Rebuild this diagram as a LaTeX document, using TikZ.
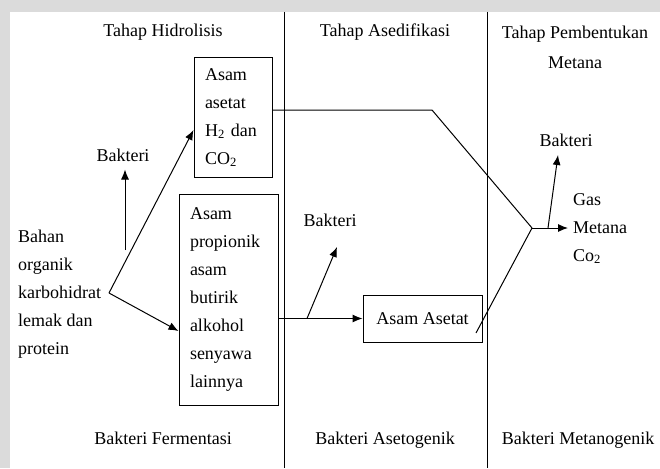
\documentclass[tikz,border=0pt]{standalone}
\usepackage{fontspec}
\setmainfont{Liberation Serif}
\usetikzlibrary{arrows.meta,positioning}

\begin{document}
\begin{tikzpicture}[
  x=1pt, y=-1pt,
  font=\fontsize{18}{28}\selectfont,
  box/.style={draw=black, line width=1pt, align=left, inner xsep=11pt, inner ysep=0pt},
  lbl/.style={inner sep=0pt},
  arr/.style={-{Latex[length=10pt,width=8pt]}, line width=1pt},
  ln/.style={line width=1pt},
]
  % background and frame
  \fill[gray!28] (0,0) rectangle (660,468);
  \fill[white] (10,12) rectangle (660,468);
  \useasboundingbox (0,0) rectangle (660,468);

  % stage dividers
  \draw[ln] (284,12) -- (284,468);
  \draw[ln] (487,12) -- (487,468);

  % stage titles
  \node[lbl] (hidro) at (163,32) {Tahap Hidrolisis};
  \node[lbl] (asedi) at (385,32) {Tahap Asedifikasi};
  \node[lbl, align=center] (metan) at (575,47) {Tahap Pembentukan\\[2pt]Metana};

  % hydrolysis stage
  \node[lbl, align=left, anchor=west] (bahan) at (18,294) {Bahan\\organik\\karbohidrat\\lemak dan\\protein};
  \node[box, minimum width=78, minimum height=119, text width=56] (asetat) at (233,117.5)
    {Asam\\asetat\\H\textsubscript{2} dan\\CO\textsubscript{2}};
  \node[box, minimum width=99, minimum height=211, text width=77] (propio) at (228.5,299.5)
    {Asam\\propionik\\asam\\butirik\\alkohol\\senyawa\\lainnya};
  \node[lbl] (bakA) at (123,155) {Bakteri};
  \node[lbl] (ferm) at (163,438) {Bakteri Fermentasi};

  \coordinate (split) at (109,293);
  \coordinate (bakAtail) at (125,250);
  \draw[arr] (split) -- ([yshift=-12.5]asetat.west);
  \draw[arr] (split) -- ([yshift=-31.5]propio.west);
  \draw[arr] (bakAtail) -- ([yshift=-8]bakAtail |- bakA.south);

  % acidification stage
  \node[box, minimum width=119, minimum height=47, inner xsep=0pt, align=center] (asam) at (422.5,318.5) {Asam Asetat};
  \node[lbl] (bakB) at (330,220) {Bakteri};
  \node[lbl] (aseto) at (385,440) {Bakteri Asetogenik};

  \coordinate (bakBtail) at (307,318.5);
  \coordinate (bakBtip) at (337,247);
  \draw[arr] (propio.east |- asam.west) -- (asam.west);
  \draw[arr] (bakBtail) -- (bakBtip);

  % methane stage
  \node[lbl, align=left, anchor=west] (gas) at (573,228.5) {Gas\\Metana\\Co\textsubscript{2}};
  \node[lbl] (bakC) at (566,140) {Bakteri};
  \node[lbl] (metano) at (578,440) {Bakteri Metanogenik};

  \coordinate (bend) at (432,110);
  \coordinate (merge) at (532,228);
  \coordinate (aaend) at (476,333);
  \coordinate (bakCtail) at (548,228);
  \coordinate (bakCtip) at (558,155);
  \draw[ln] (asetat.east |- bend) -- (bend) -- (merge);
  \draw[ln] (aaend) -- (merge);
  \draw[arr] (merge) -- ([xshift=-5]gas.west |- merge);
  \draw[arr] (bakCtail) -- (bakCtip);
\end{tikzpicture}
\end{document}
